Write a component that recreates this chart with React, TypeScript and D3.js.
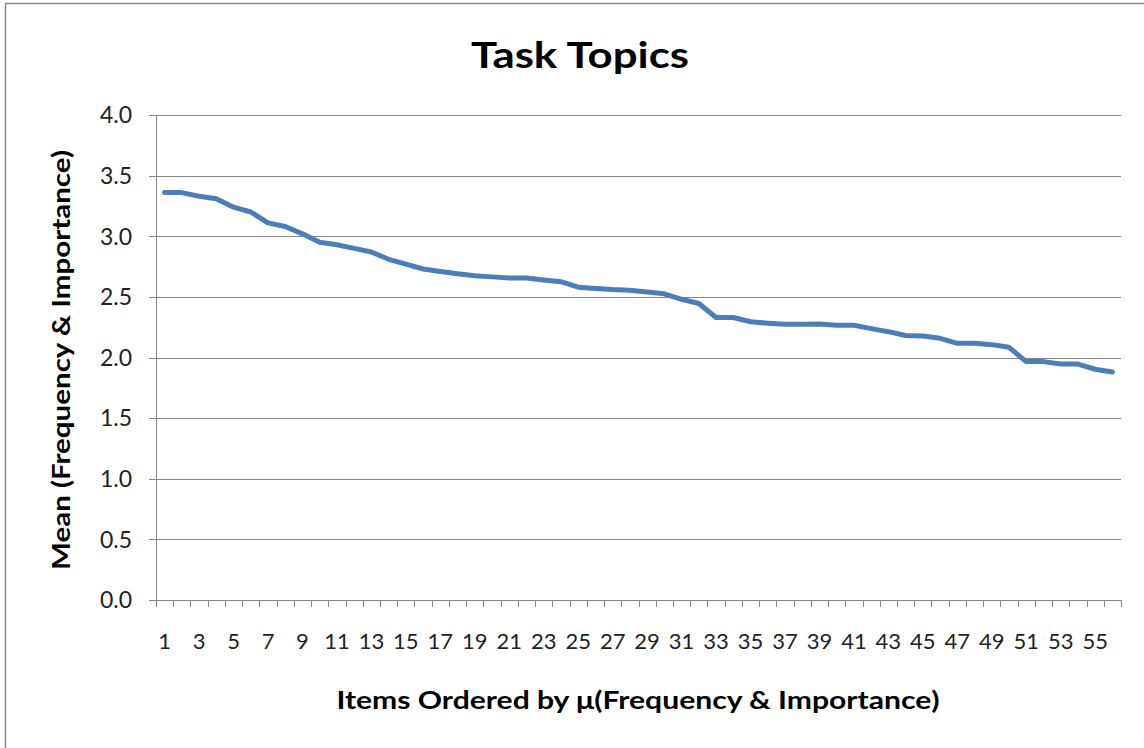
import React from 'react'
import * as d3 from 'd3'

const items = [
    1, 2, 3, 4, 5, 6, 7, 8, 9, 10, 11, 12, 13, 14, 15, 16, 17, 18, 19, 20,
    21, 22, 23, 24, 25, 26, 27, 28, 29, 30, 31, 32, 33, 34, 35, 36, 37, 38, 39, 40,
    41, 42, 43, 44, 45, 46, 47, 48, 49, 50, 51, 52, 53, 54, 55, 56
]

const means = [
    3.36, 3.36, 3.33, 3.31, 3.24, 3.20, 3.11, 3.08, 3.02, 2.95,
    2.93, 2.90, 2.87, 2.81, 2.77, 2.73, 2.71, 2.69, 2.675, 2.665,
    2.655, 2.655, 2.64, 2.625, 2.58, 2.57, 2.56, 2.555, 2.54, 2.525,
    2.48, 2.445, 2.33, 2.33, 2.295, 2.283, 2.274, 2.274, 2.276, 2.266,
    2.266, 2.238, 2.213, 2.182, 2.178, 2.158, 2.117, 2.117, 2.106, 2.084,
    1.966, 1.966, 1.946, 1.946, 1.903, 1.88
]

const yTicks = [0, 0.5, 1, 1.5, 2, 2.5, 3, 3.5, 4]

const chartTitle = 'Task Topics'
const xTitle = 'Items Ordered by \u03bc(Frequency & Importance)'
const yTitle = 'Mean (Frequency & Importance)'

const W = 1144
const H = 748
const left = 156
const right = 1121
const top = 115
const bottom = 600
const grid = '#878787'
const font = 'Lato, "Open Sans", sans-serif'

function App() {
    const x = d3.scaleBand<number>()
        .domain(items)
        .range([left, right])
        .padding(0)

    const y = d3.scaleLinear()
        .domain([0, 4])
        .range([bottom, top])

    const line = d3.line<number>()
        .x((d, i) => x(items[i])! + x.bandwidth() / 2)
        .y((d) => y(d))

    const boundaries = items.map((e) => x(e)!).concat([right])

    return (
        <svg width={W} height={H} style={{ position: 'absolute', left: 0, top: 0, background: '#fff' }}>
            <rect x={5.5} y={3.5} width={W + 20} height={H + 20} fill="#fff" stroke={grid} strokeWidth={1.5} />

            <text x={580} y={68} textAnchor="middle" fontFamily={font} fontWeight="bold"
                fontSize={37} textLength={218} lengthAdjust="spacingAndGlyphs" fill="#000">
                {chartTitle}
            </text>

            {/* horizontal gridlines + y ticks */}
            {yTicks.map((t) => (
                <g key={t}>
                    {t > 0 && (
                        <line x1={left} x2={right} y1={Math.round(y(t)) + 0.5} y2={Math.round(y(t)) + 0.5}
                            stroke={grid} strokeWidth={1} />
                    )}
                    <line x1={left - 7} x2={left} y1={Math.round(y(t)) + 0.5} y2={Math.round(y(t)) + 0.5}
                        stroke={grid} strokeWidth={1} />
                    <text x={132} y={y(t)} dy="0.36em" textAnchor="end" fontFamily={font}
                        fontSize={23} fill="#222">
                        {d3.format('.1f')(t)}
                    </text>
                </g>
            ))}

            {/* axes */}
            <line x1={left + 0.5} x2={left + 0.5} y1={top} y2={bottom} stroke={grid} strokeWidth={1} />
            <line x1={left} x2={right} y1={bottom + 0.5} y2={bottom + 0.5} stroke={grid} strokeWidth={1} />

            {boundaries.map((b, i) => (
                <line key={i} x1={Math.round(b) + 0.5} x2={Math.round(b) + 0.5} y1={bottom} y2={bottom + 7}
                    stroke={grid} strokeWidth={1} />
            ))}

            {items.filter((e) => e % 2 === 1).map((e) => (
                <text key={e} x={x(e)! + x.bandwidth() / 2} y={649} textAnchor="middle"
                    fontFamily={font} fontSize={22} fill="#222">
                    {e}
                </text>
            ))}

            <path d={line(means) || ''} fill="none" stroke="#4a7ebb" strokeWidth={5}
                strokeLinejoin="round" strokeLinecap="round" />

            <text x={638} y={709} textAnchor="middle" fontFamily={font} fontWeight="bold"
                fontSize={25} textLength={603} lengthAdjust="spacingAndGlyphs" fill="#000">
                {xTitle}
            </text>

            <text transform="translate(70,360) rotate(-90)" textAnchor="middle" fontFamily={font}
                fontWeight="bold" fontSize={25} textLength={420} lengthAdjust="spacingAndGlyphs" fill="#000">
                {yTitle}
            </text>
        </svg>
    )
}

export default App
